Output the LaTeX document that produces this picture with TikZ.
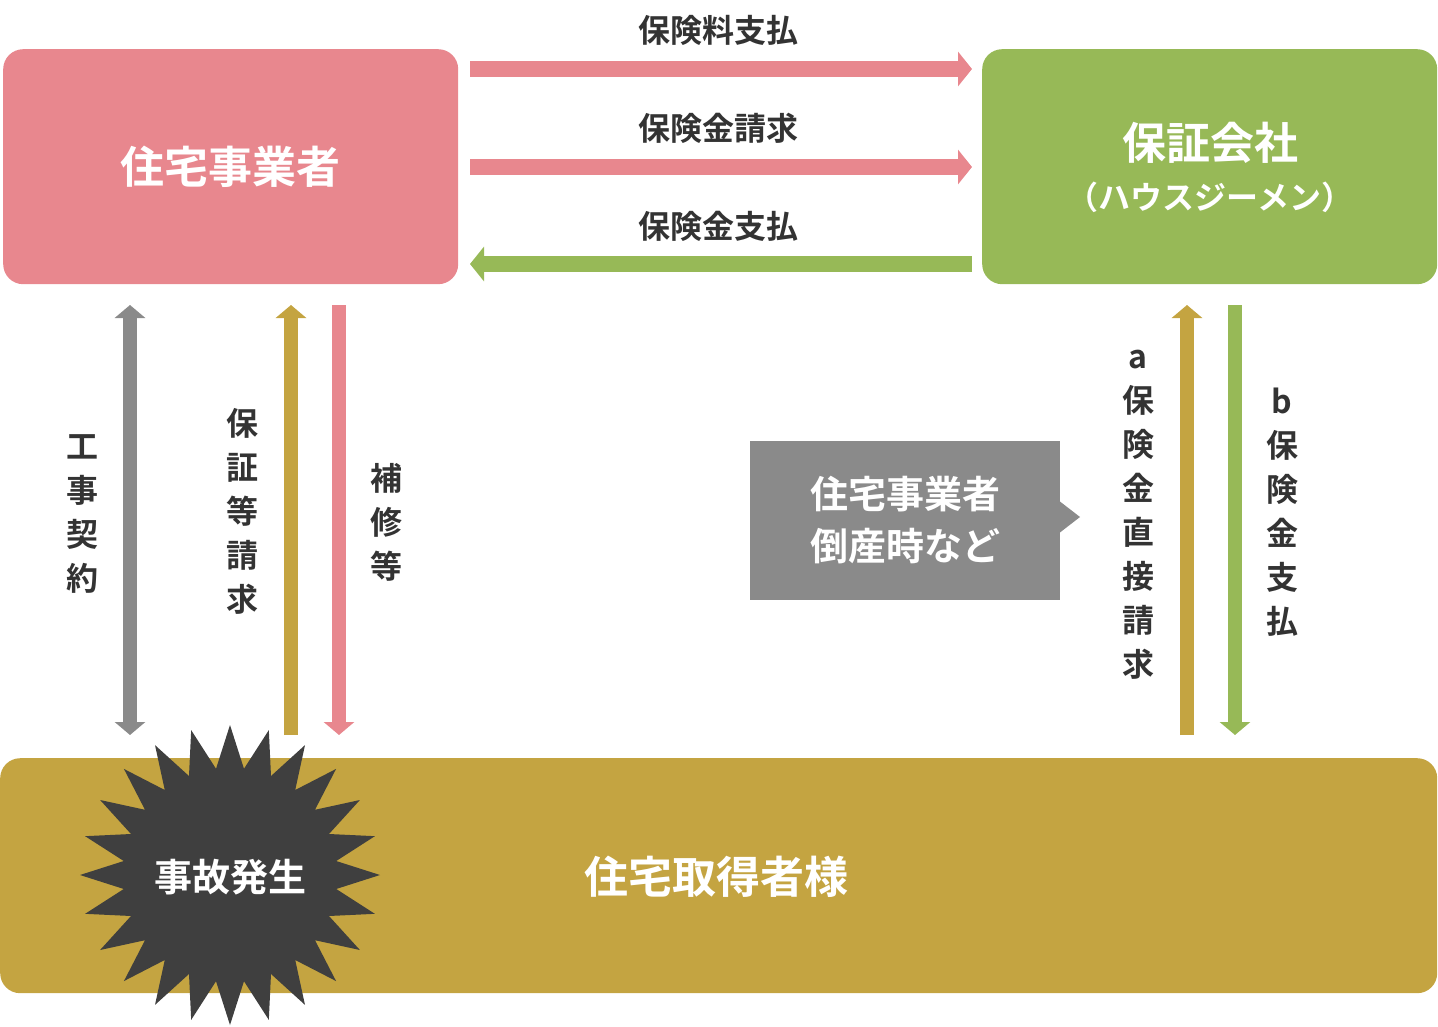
\documentclass[tikz,border=0pt]{standalone}
\usepackage{fontspec}
\setmainfont{Noto Sans CJK JP}[BoldFont={Noto Sans CJK JP Bold}]
\usetikzlibrary{arrows.meta,shapes.geometric}
\definecolor{pinkc}{HTML}{E8878E}
\definecolor{greenc}{HTML}{97B957}
\definecolor{goldc}{HTML}{C4A441}
\definecolor{grayc}{HTML}{8A8A8A}
\definecolor{darkc}{HTML}{3F3F3F}
\definecolor{txt}{HTML}{333333}
\tikzset{
 big/.style={font=\bfseries\fontsize{44}{50}\selectfont,text=white},
 lab/.style={font=\bfseries\fontsize{32}{36}\selectfont,text=txt},
 vlab/.style={font=\bfseries\fontsize{32}{44}\selectfont,text=txt,align=center},
 harrow/.style={line width=16pt,-{Triangle[width=34pt,length=14pt]}},
 varrow/.style={line width=14pt,-{Triangle[width=30pt,length=13pt]}},
}
\begin{document}
\begin{tikzpicture}[x=1pt,y=-1pt]
\useasboundingbox (0,0) rectangle (1438,1027);
\node[fill=pinkc,rounded corners=20pt,minimum width=455pt,minimum height=235pt,anchor=north west] (jb) at (3,49) {};
\node[big] (jbt) at (230,167) {住宅事業者};
\node[fill=greenc,rounded corners=20pt,minimum width=455pt,minimum height=235pt,anchor=north west] (gc) at (982,49) {};
\node[big] (gct) at (1210,143) {保証会社};
\node[font=\bfseries\fontsize{32}{36}\selectfont,text=white] (gct2) at (1210,197) {（ハウスジーメン）};
\node[fill=goldc,rounded corners=20pt,minimum width=1437pt,minimum height=235pt,anchor=north west] (hb) at (0,758) {};
\node[big] (hbt) at (716,877) {住宅取得者様};
\node[star,star points=24,star point ratio=1.4,fill=darkc,minimum size=300pt,inner sep=0pt] (st) at (230,875) {};
\node[font=\bfseries\fontsize{38}{44}\selectfont,text=white] (stt) at (230,877) {事故発生};
% horizontal
\coordinate (a1s) at (470,69); \coordinate (a1e) at (972,69);
\coordinate (a2s) at (470,167); \coordinate (a2e) at (972,167);
\coordinate (a3s) at (972,264); \coordinate (a3e) at (470,264);
\draw[harrow,pinkc] (a1s) -- (a1e);
\draw[harrow,pinkc] (a2s) -- (a2e);
\draw[harrow,greenc] (a3s) -- (a3e);
\node[lab] (l1) at (718,30) {保険料支払};
\node[lab] (l2) at (718,128) {保険金請求};
\node[lab] (l3) at (718,226) {保険金支払};
% vertical
\coordinate (v1t) at (130,305); \coordinate (v1b) at (130,735);
\draw[line width=14pt,{Triangle[width=30pt,length=13pt]}-{Triangle[width=30pt,length=13pt]},grayc] (v1t) -- (v1b);
\coordinate (v2t) at (291,305); \coordinate (v2b) at (291,735);
\draw[varrow,goldc] (v2b) -- (v2t);
\coordinate (v3t) at (339,305); \coordinate (v3b) at (339,735);
\draw[varrow,pinkc] (v3t) -- (v3b);
\coordinate (v4t) at (1187,305); \coordinate (v4b) at (1187,735);
\draw[varrow,goldc] (v4b) -- (v4t);
\coordinate (v5t) at (1235,305); \coordinate (v5b) at (1235,735);
\draw[varrow,greenc] (v5t) -- (v5b);
\node[vlab] (t1) at (82,514) {工\\事\\契\\約};
\node[vlab] (t2) at (242,511) {保\\証\\等\\請\\求};
\node[vlab] (t3) at (386,522) {補\\修\\等};
\node[vlab] (t4) at (1138,515) {a\\保\\険\\金\\直\\接\\請\\求};
\node[vlab] (t5) at (1282,512) {b\\保\\険\\金\\支\\払};
% callout
\fill[grayc] (750,441) rectangle (1060,600);
\fill[grayc] (1058,500) -- (1080,517) -- (1058,534) -- cycle;
\node[font=\bfseries\fontsize{38}{52}\selectfont,text=white,align=center] (co) at (905,520) {住宅事業者\\倒産時など};
\end{tikzpicture}
\end{document}
